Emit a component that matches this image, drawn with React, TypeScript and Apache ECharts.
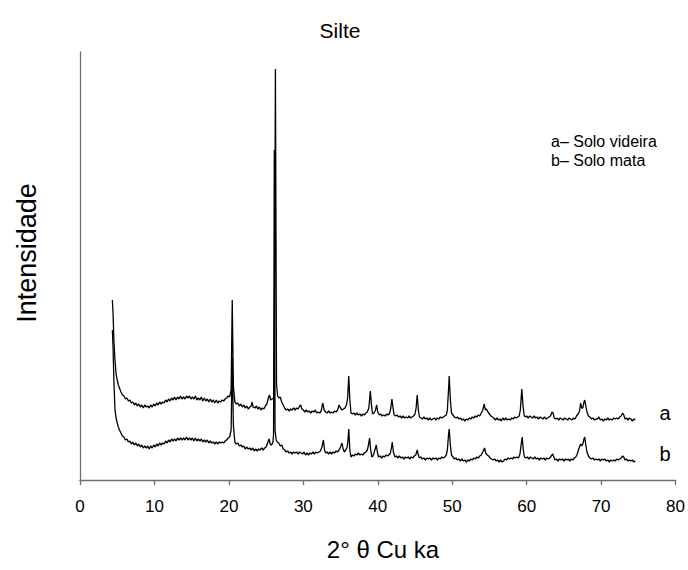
import React, { useEffect, useRef } from "react";
import * as echarts from "echarts";

const titleText = "Silte";
const xAxisName = "2° θ Cu ka";
const yAxisName = "Intensidade";
const legendLines = ["a– Solo videira", "b– Solo mata"];
const curveLabels = ["a", "b"];
const xTicks = [0, 10, 20, 30, 40, 50, 60, 70, 80];

// Curve a – Solo videira: [2θ, intensity (arbitrary units)]
const seriesA: number[][] = [
  [4.35,180],[4.45,165],[4.55,140],[4.7,120],[4.85,106],[5.0,100],[5.15,95],[5.3,92],[5.5,88],[5.7,85],[5.9,84],[6.1,81],[6.3,82],[6.5,79],[6.7,80],[6.9,77],[7.1,78],[7.3,75],[7.5,77],[7.7,74],[7.9,76],[8.1,73],[8.3,75],[8.5,72],[8.7,75],[8.9,73],[9.1,74],[9.3,72],[9.5,75],[9.7,73],[9.9,76],[10.1,74],[10.3,77],[10.5,75],[10.7,78],[10.9,76],[11.1,78],[11.3,77],[11.5,80],[11.7,78],[11.9,81],[12.1,79],[12.3,82],[12.5,80],[12.7,83],[12.9,80],[13.1,83],[13.3,81],[13.5,84],[13.7,81],[13.9,83],[14.1,81],[14.3,84],[14.5,82],[14.7,84],[14.9,81],[15.1,83],[15.3,81],[15.5,84],[15.7,80],[15.9,82],[16.1,80],[16.3,83],[16.5,79],[16.7,82],[16.9,79],[17.1,81],[17.3,78],[17.5,81],[17.7,78],[17.9,80],[18.1,77],[18.3,80],[18.5,77],[18.7,79],[18.9,78],[19.1,80],[19.3,79],[19.5,81],[19.7,82],[19.9,84],[20.1,83],[20.3,90],[20.45,180],[20.6,95],[20.8,78],[21.0,76],[21.2,77],[21.4,74],[21.6,76],[21.8,73],[22.0,75],[22.2,72],[22.4,74],[22.6,71],[22.8,73],[23.0,74],[23.1,78],[23.25,73],[23.5,72],[23.7,74],[23.9,71],[24.1,73],[24.3,70],[24.5,72],[24.7,71],[24.9,74],[25.1,76],[25.3,82],[25.45,85],[25.6,80],[25.8,81],[26.0,82],[26.1,90],[26.25,411],[26.4,95],[26.55,84],[26.7,82],[26.9,83],[27.1,78],[27.3,75],[27.5,72],[27.7,70],[27.9,71],[28.1,69],[28.3,71],[28.5,70],[28.7,72],[28.9,70],[29.1,72],[29.3,71],[29.5,74],[29.65,75],[29.8,71],[30.0,70],[30.2,68],[30.4,70],[30.6,68],[30.8,69],[31.0,67],[31.2,69],[31.4,68],[31.6,70],[31.8,67],[32.0,68],[32.2,67],[32.4,69],[32.6,77],[32.8,70],[33.0,68],[33.2,67],[33.4,69],[33.6,67],[33.8,68],[34.0,67],[34.2,69],[34.4,68],[34.6,70],[34.8,75],[35.0,72],[35.2,70],[35.4,71],[35.6,72],[35.8,75],[35.95,82],[36.1,104],[36.25,80],[36.4,67],[36.6,66],[36.8,67],[37.0,65],[37.2,67],[37.4,65],[37.6,66],[37.8,64],[38.0,66],[38.2,65],[38.4,67],[38.6,68],[38.8,72],[39.0,89],[39.15,75],[39.3,66],[39.5,67],[39.7,70],[39.85,75],[40.0,68],[40.2,65],[40.4,66],[40.6,64],[40.8,65],[41.0,64],[41.2,66],[41.4,65],[41.6,67],[41.75,72],[41.9,81],[42.05,72],[42.2,65],[42.4,64],[42.6,65],[42.8,63],[43.0,64],[43.2,62],[43.4,64],[43.6,62],[43.8,63],[44.0,62],[44.2,64],[44.4,62],[44.6,63],[44.8,64],[45.0,66],[45.15,72],[45.3,85],[45.45,70],[45.6,63],[45.8,62],[46.0,61],[46.2,63],[46.4,61],[46.6,62],[46.8,60],[47.0,62],[47.2,60],[47.4,61],[47.6,62],[47.8,60],[48.0,62],[48.2,61],[48.4,63],[48.6,62],[48.8,63],[49.0,64],[49.2,65],[49.35,70],[49.5,90],[49.6,104],[49.75,80],[49.9,67],[50.1,65],[50.3,63],[50.5,62],[50.7,63],[50.9,61],[51.1,62],[51.3,60],[51.5,61],[51.7,59],[51.9,61],[52.1,60],[52.3,62],[52.5,61],[52.7,63],[52.9,62],[53.1,64],[53.3,63],[53.5,65],[53.7,64],[53.9,67],[54.1,70],[54.3,76],[54.45,70],[54.6,71],[54.8,68],[55.0,66],[55.2,64],[55.4,63],[55.6,62],[55.8,60],[56.0,62],[56.2,60],[56.4,61],[56.6,59],[56.8,62],[57.0,60],[57.2,62],[57.4,60],[57.6,61],[57.8,60],[58.0,62],[58.2,61],[58.4,63],[58.6,62],[58.8,63],[59.0,64],[59.15,70],[59.35,91],[59.5,75],[59.65,65],[59.8,63],[60.0,64],[60.2,62],[60.4,64],[60.6,63],[60.8,62],[61.0,64],[61.2,62],[61.4,63],[61.6,61],[61.8,63],[62.0,62],[62.2,61],[62.4,63],[62.6,61],[62.8,62],[63.0,63],[63.2,64],[63.4,68],[63.55,67],[63.7,62],[63.9,61],[64.1,62],[64.3,60],[64.5,62],[64.7,61],[64.9,60],[65.1,62],[65.3,61],[65.5,60],[65.7,62],[65.9,61],[66.1,60],[66.3,62],[66.5,61],[66.7,64],[66.9,66],[67.1,69],[67.25,77],[67.4,72],[67.55,72],[67.7,78],[67.8,80],[67.95,74],[68.1,68],[68.3,64],[68.5,63],[68.7,61],[68.9,62],[69.1,60],[69.3,61],[69.5,61],[69.7,63],[69.9,60],[70.1,61],[70.3,59],[70.5,61],[70.7,60],[70.9,62],[71.1,60],[71.3,61],[71.5,60],[71.7,62],[71.9,61],[72.1,62],[72.3,61],[72.5,63],[72.7,64],[72.9,67],[73.05,65],[73.2,61],[73.4,62],[73.6,60],[73.8,62],[74.0,61],[74.2,59],[74.4,61],[74.6,60]
];

// Curve b – Solo mata
const seriesB: number[][] = [
  [4.35,150],[4.45,130],[4.55,100],[4.7,70],[4.85,62],[5.0,57],[5.15,53],[5.3,50],[5.5,47],[5.7,44],[5.9,43],[6.1,40],[6.3,41],[6.5,38],[6.7,39],[6.9,36],[7.1,38],[7.3,35],[7.5,37],[7.7,34],[7.9,36],[8.1,33],[8.3,35],[8.5,32],[8.7,34],[8.9,32],[9.1,34],[9.3,31],[9.5,34],[9.7,32],[9.9,35],[10.1,33],[10.3,36],[10.5,34],[10.7,37],[10.9,35],[11.1,37],[11.3,36],[11.5,39],[11.7,37],[11.9,40],[12.1,38],[12.3,41],[12.5,39],[12.7,41],[12.9,39],[13.1,42],[13.3,40],[13.5,42],[13.7,40],[13.9,42],[14.1,40],[14.3,43],[14.5,40],[14.7,42],[14.9,40],[15.1,42],[15.3,39],[15.5,42],[15.7,39],[15.9,41],[16.1,39],[16.3,41],[16.5,38],[16.7,40],[16.9,38],[17.1,40],[17.3,37],[17.5,39],[17.7,37],[17.9,38],[18.1,36],[18.3,38],[18.5,36],[18.7,38],[18.9,37],[19.1,38],[19.3,37],[19.5,39],[19.7,40],[19.9,42],[20.1,43],[20.3,50],[20.45,123],[20.6,55],[20.8,38],[21.0,36],[21.2,37],[21.4,34],[21.6,35],[21.8,33],[22.0,34],[22.2,31],[22.4,33],[22.6,31],[22.8,32],[23.0,30],[23.2,32],[23.4,29],[23.6,31],[23.8,29],[24.0,31],[24.2,30],[24.4,32],[24.6,30],[24.8,32],[25.0,33],[25.2,37],[25.4,41],[25.55,36],[25.7,35],[25.9,37],[26.0,45],[26.1,330],[26.2,50],[26.35,40],[26.5,38],[26.7,37],[26.9,34],[27.1,35],[27.3,31],[27.5,30],[27.7,28],[27.9,29],[28.1,27],[28.3,28],[28.5,26],[28.7,28],[28.9,27],[29.1,28],[29.3,26],[29.5,28],[29.7,27],[29.9,26],[30.1,28],[30.3,25],[30.5,27],[30.7,25],[30.9,27],[31.1,26],[31.3,28],[31.5,26],[31.7,28],[31.9,27],[32.1,28],[32.3,29],[32.5,33],[32.7,40],[32.85,30],[33.0,27],[33.2,28],[33.4,26],[33.6,28],[33.8,26],[34.0,28],[34.2,27],[34.4,29],[34.6,28],[34.8,30],[35.0,33],[35.2,37],[35.35,31],[35.5,28],[35.7,30],[35.9,33],[36.0,40],[36.1,51],[36.25,30],[36.4,23],[36.6,25],[36.8,24],[37.0,26],[37.2,25],[37.4,27],[37.6,25],[37.8,26],[38.0,25],[38.2,27],[38.4,28],[38.6,30],[38.75,35],[38.9,42],[39.05,30],[39.2,23],[39.35,24],[39.5,27],[39.65,31],[39.8,35],[39.95,28],[40.1,23],[40.3,24],[40.5,22],[40.7,24],[40.9,23],[41.1,25],[41.3,24],[41.5,25],[41.7,27],[41.85,33],[41.95,38],[42.1,28],[42.3,23],[42.5,24],[42.7,22],[42.9,24],[43.1,22],[43.3,23],[43.5,21],[43.7,23],[43.9,22],[44.1,23],[44.3,21],[44.5,23],[44.7,22],[44.9,24],[45.1,25],[45.3,30],[45.45,25],[45.6,22],[45.8,23],[46.0,21],[46.2,22],[46.4,20],[46.6,22],[46.8,21],[47.0,22],[47.2,20],[47.4,22],[47.6,21],[47.8,22],[48.0,20],[48.2,22],[48.4,21],[48.6,23],[48.8,22],[49.0,23],[49.2,25],[49.35,30],[49.5,45],[49.6,51],[49.75,35],[49.9,25],[50.1,23],[50.3,21],[50.5,22],[50.7,20],[50.9,21],[51.1,19],[51.3,21],[51.5,19],[51.7,20],[51.9,18],[52.1,20],[52.3,19],[52.5,21],[52.7,20],[52.9,22],[53.1,21],[53.3,23],[53.5,22],[53.7,24],[53.9,25],[54.1,28],[54.35,32],[54.5,27],[54.7,25],[54.9,24],[55.1,22],[55.3,21],[55.5,20],[55.7,21],[55.9,19],[56.1,20],[56.3,18],[56.5,20],[56.7,18],[56.9,19],[57.1,21],[57.3,20],[57.5,22],[57.7,21],[57.9,22],[58.1,21],[58.3,23],[58.5,22],[58.7,23],[58.9,22],[59.1,26],[59.25,35],[59.4,43],[59.55,30],[59.7,23],[59.9,22],[60.1,23],[60.3,21],[60.5,23],[60.7,22],[60.9,21],[61.1,23],[61.3,21],[61.5,22],[61.7,20],[61.9,22],[62.1,21],[62.3,22],[62.5,20],[62.7,22],[62.9,21],[63.1,22],[63.3,24],[63.5,26],[63.65,23],[63.8,20],[64.0,21],[64.2,19],[64.4,21],[64.6,20],[64.8,21],[65.0,19],[65.2,21],[65.4,20],[65.6,21],[65.8,19],[66.0,21],[66.2,20],[66.4,22],[66.6,23],[66.8,26],[66.95,30],[67.1,33],[67.25,36],[67.4,34],[67.55,36],[67.7,41],[67.8,43],[67.95,35],[68.1,28],[68.3,24],[68.5,22],[68.7,21],[68.9,22],[69.1,20],[69.3,21],[69.5,20],[69.7,21],[69.9,19],[70.1,21],[70.3,20],[70.5,21],[70.7,19],[70.9,20],[71.1,18],[71.3,20],[71.5,19],[71.7,20],[71.9,19],[72.1,21],[72.3,20],[72.5,21],[72.7,22],[72.9,24],[73.05,23],[73.2,20],[73.4,21],[73.6,19],[73.8,20],[74.0,19],[74.2,20],[74.4,18],[74.6,19]
];

const FONT = "'Liberation Sans', Arial, Helvetica, sans-serif";

export default function App() {
  const ref = useRef<HTMLDivElement>(null);
  useEffect(() => {
    if (!ref.current) return;
    const chart = echarts.init(ref.current, null, { renderer: "svg" });
    chart.setOption({
      animation: false,
      backgroundColor: "#ffffff",
      grid: { left: 80, right: 11, top: 52, bottom: 90, containLabel: false },
      xAxis: {
        type: "value",
        min: xTicks[0],
        max: xTicks[xTicks.length - 1],
        interval: 10,
        splitLine: { show: false },
        axisLine: { show: true, onZero: false, lineStyle: { color: "#6e6e6e", width: 1.3 } },
        axisTick: { show: true, inside: false, length: 5, lineStyle: { color: "#6e6e6e", width: 1.3 } },
        axisLabel: { show: true, color: "#000", fontFamily: FONT, fontSize: 17, margin: 18 },
      },
      yAxis: {
        type: "value",
        min: 0,
        max: 428,
        splitLine: { show: false },
        axisLine: { show: true, lineStyle: { color: "#6e6e6e", width: 1.3 } },
        axisTick: { show: false },
        axisLabel: { show: false },
      },
      series: [
        {
          name: "a",
          type: "line",
          data: seriesA,
          showSymbol: false,
          symbol: "none",
          lineStyle: { color: "#000", width: 1.3 },
          silent: true,
        },
        {
          name: "b",
          type: "line",
          data: seriesB,
          showSymbol: false,
          symbol: "none",
          lineStyle: { color: "#000", width: 1.3 },
          silent: true,
        },
      ],
      graphic: [
        {
          type: "text",
          x: 340,
          y: 30,
          style: { text: titleText, fontFamily: FONT, fontSize: 21, fill: "#000", textAlign: "center", textVerticalAlign: "middle" },
        },
        {
          type: "text",
          x: 383,
          y: 549,
          style: { text: xAxisName, fontFamily: FONT, fontSize: 24, fill: "#000", textAlign: "center", textVerticalAlign: "middle" },
        },
        {
          type: "text",
          x: 27,
          y: 253,
          rotation: Math.PI / 2,
          style: { text: yAxisName, fontFamily: FONT, fontSize: 27, fill: "#000", textAlign: "center", textVerticalAlign: "middle" },
        },
        {
          type: "text",
          x: 551,
          y: 141,
          style: { text: legendLines[0], fontFamily: FONT, fontSize: 16, fill: "#000", textAlign: "left", textVerticalAlign: "middle" },
        },
        {
          type: "text",
          x: 551,
          y: 160,
          style: { text: legendLines[1], fontFamily: FONT, fontSize: 16, fill: "#000", textAlign: "left", textVerticalAlign: "middle" },
        },
        {
          type: "text",
          x: 665,
          y: 413,
          style: { text: curveLabels[0], fontFamily: FONT, fontSize: 20, fill: "#000", textAlign: "center", textVerticalAlign: "middle" },
        },
        {
          type: "text",
          x: 665,
          y: 454,
          style: { text: curveLabels[1], fontFamily: FONT, fontSize: 20, fill: "#000", textAlign: "center", textVerticalAlign: "middle" },
        },
      ],
    });
    return () => chart.dispose();
  }, []);
  return (
    <div
      ref={ref}
      style={{ position: "fixed", left: 0, top: 0, width: 688, height: 570, background: "#fff" }}
    />
  );
}
